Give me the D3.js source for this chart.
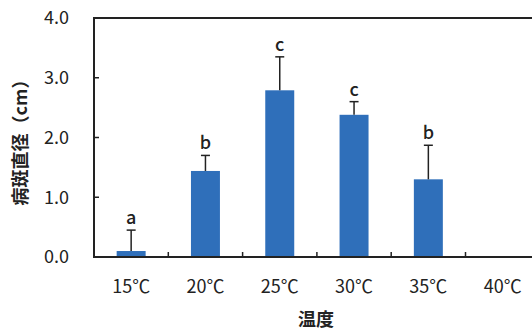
<!DOCTYPE html>
<html>
<head>
<meta charset="utf-8">
<script src="https://cdn.jsdelivr.net/npm/d3@7/dist/d3.min.js"></script>
<style>
  body { margin: 0; background: #fff; }
  text { font-family: 'Noto Sans CJK JP', 'Noto Sans', sans-serif; fill: #222; }
</style>
</head>
<body>
<div id="chart"></div>
<script>
let categories = ['15℃', '20℃', '25℃', '30℃', '35℃', '40℃']
let means = [0.1, 1.44, 2.79, 2.38, 1.3, 0]
let errors = [0.35, 0.26, 0.56, 0.22, 0.57, 0]
let letters = ['a', 'b', 'c', 'c', 'b', '']
let yTicks = [0, 1, 2, 3, 4]

let width = 532
let height = 330
let margin = { top: 18, left: 94, bottom: 73 }

let svg = d3
  .select('#chart')
  .append('svg')
  .attr('width', width)
  .attr('height', height)

// the plot is cropped on the right in the source image
let xScale = d3
  .scaleBand()
  .domain(categories)
  .range([margin.left, margin.left + 6 * 74.3])
  .paddingInner(0.61)
  .paddingOuter(0.305)

let yScale = d3
  .scaleLinear()
  .domain([0, 4])
  .range([height - margin.bottom, margin.top])

let step = xScale.step()
let x0 = margin.left
let x1 = margin.left + 6 * step

// bars
svg
  .selectAll('.bar')
  .data(categories)
  .enter()
  .append('rect')
  .attr('class', 'bar')
  .attr('x', d => xScale(d))
  .attr('width', xScale.bandwidth())
  .attr('y', (d, i) => yScale(means[i]))
  .attr('height', (d, i) => yScale(0) - yScale(means[i]))
  .attr('fill', '#2f6fba')

// error bars
let errG = svg
  .selectAll('.err')
  .data(categories.filter((d, i) => errors[i] > 0))
  .enter()
  .append('g')
  .attr('class', 'err')
  .attr('stroke', '#222')
  .attr('stroke-width', 1.5)

let errTop = d => {
  let i = categories.indexOf(d)
  return yScale(means[i] + errors[i])
}

errG
  .append('line')
  .attr('x1', d => xScale(d) + xScale.bandwidth() / 2)
  .attr('x2', d => xScale(d) + xScale.bandwidth() / 2)
  .attr('y1', d => yScale(means[categories.indexOf(d)]))
  .attr('y2', errTop)

errG
  .append('line')
  .attr('x1', d => xScale(d) + xScale.bandwidth() / 2 - 4.5)
  .attr('x2', d => xScale(d) + xScale.bandwidth() / 2 + 4.5)
  .attr('y1', errTop)
  .attr('y2', errTop)

// significance letters
svg
  .selectAll('.letter')
  .data(categories)
  .enter()
  .append('text')
  .attr('class', 'letter')
  .attr('x', d => xScale(d) + xScale.bandwidth() / 2)
  .attr('y', (d, i) => yScale(means[i] + errors[i]) - 6)
  .attr('text-anchor', 'middle')
  .attr('font-size', 18)
  .attr('font-weight', 500)
  .text((d, i) => letters[i])

// frame: left, top, bottom
svg
  .append('path')
  .attr('d', `M${x1},${yScale(4)}H${x0}V${yScale(0)}H${x1}`)
  .attr('fill', 'none')
  .attr('stroke', '#222')
  .attr('stroke-width', 2)

// y ticks (inward)
svg
  .selectAll('.ytick')
  .data(yTicks.slice(1, 4))
  .enter()
  .append('line')
  .attr('x1', x0)
  .attr('x2', x0 + 5)
  .attr('y1', d => yScale(d))
  .attr('y2', d => yScale(d))
  .attr('stroke', '#222')
  .attr('stroke-width', 1.5)

svg
  .selectAll('.ylabel')
  .data(yTicks)
  .enter()
  .append('text')
  .attr('x', 69)
  .attr('y', d => yScale(d))
  .attr('dy', '0.36em')
  .attr('text-anchor', 'end')
  .attr('font-size', 18)
  .text(d => d.toFixed(1))

// x ticks between categories (inward)
svg
  .selectAll('.xtick')
  .data(categories.slice(1))
  .enter()
  .append('line')
  .attr('x1', d => xScale(d) - (step - xScale.bandwidth()) / 2)
  .attr('x2', d => xScale(d) - (step - xScale.bandwidth()) / 2)
  .attr('y1', yScale(0))
  .attr('y2', yScale(0) - 5)
  .attr('stroke', '#222')
  .attr('stroke-width', 1.5)

svg
  .selectAll('.xlabel')
  .data(categories)
  .enter()
  .append('text')
  .attr('x', d => xScale(d) + xScale.bandwidth() / 2)
  .attr('y', 287)
  .attr('dy', '0.36em')
  .attr('text-anchor', 'middle')
  .attr('font-size', 18)
  .text(d => d)

// axis titles
svg
  .append('text')
  .attr('x', 316)
  .attr('y', 320)
  .attr('dy', '0.36em')
  .attr('text-anchor', 'middle')
  .attr('font-size', 18)
  .attr('font-weight', 'bold')
  .text('温度')

svg
  .append('text')
  .attr('transform', 'translate(21,138)rotate(-90)')
  .attr('dy', '0.36em')
  .attr('text-anchor', 'middle')
  .attr('font-size', 18)
  .attr('font-weight', 'bold')
  .text('病斑直径（cm）')
</script>
</body>
</html>
